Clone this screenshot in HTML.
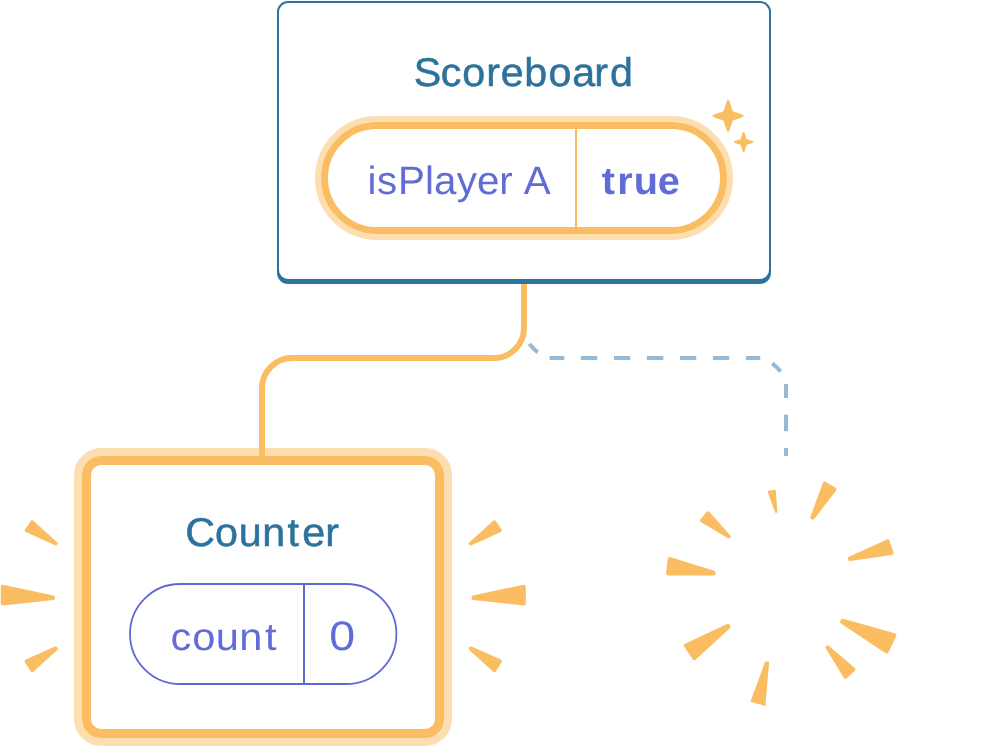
<!DOCTYPE html>
<html lang="en">
<head>
<meta charset="utf-8">
<title>Scoreboard diagram</title>
<style>
html,body{margin:0;padding:0;background:#fff;}
body{width:1008px;height:750px;overflow:hidden;}
svg{display:block;will-change:transform;}
text{font-family:"Liberation Sans",sans-serif;font-size:40px;text-rendering:geometricPrecision;}
.title{fill:#2C729D;stroke:#2C729D;stroke-width:0.5px;}
.state{fill:#626CD6;}
.bold{font-weight:bold;}
</style>
</head>
<body>
<svg width="1008" height="750" viewBox="0 0 1008 750" role="img" aria-label="Component tree: Scoreboard renders Counter; the second child has been removed">
<rect width="1008" height="750" fill="#fff"/>

<g id="connectors">
<rect x="78" y="452" width="370" height="290" rx="23" fill="none" stroke="#FCDEB0" stroke-width="8"/>
<path d="M524,282 V328 A30,30 0 0 1 494,358 H292 A30,30 0 0 0 262,388 V458" fill="none" stroke="#FABD62" stroke-width="6"/>
<g fill="none" stroke="#95BAD6" stroke-width="4">
<path d="M529.4,343.9 Q533,348.6 537.8,352.3"/>
<path d="M549.6,358 H564.3"/>
<path d="M580.8,358 H597.2"/>
<path d="M614,358 H630.2"/>
<path d="M646.9,358 H663.3"/>
<path d="M680,358 H696.2"/>
<path d="M712.9,358 H729.2"/>
<path d="M745.9,358 H760.2"/>
<path d="M772.2,363.4 Q777,367 780.6,371.6"/>
<path d="M786,384 V398"/>
<path d="M786,414.7 V431.2"/>
<path d="M786,448 V456"/>
</g>
</g>
<g id="scoreboard">
<rect x="277" y="1" width="494" height="283" rx="11" fill="#2C739E"/>
<rect x="279" y="3" width="490" height="276" rx="9" fill="#fff"/>
<rect x="318" y="119" width="412" height="118" rx="59" fill="none" stroke="#FCDEB0" stroke-width="6"/>
<rect x="324.5" y="125.5" width="399" height="105" rx="52.5" fill="#fff" stroke="#FABD62" stroke-width="7"/>
<rect x="575" y="128" width="2" height="100" fill="#FABD62"/>
<path d="M728.10,101.20 L731.80,112.20 L742.40,115.90 L731.80,119.60 L728.10,130.60 L724.40,119.60 L713.80,115.90 L724.40,112.20Z" fill="#FABD62" stroke="#FABD62" stroke-width="2.4" stroke-linejoin="round"/>
<path d="M743.60,133.00 L745.70,139.90 L752.30,142.00 L745.70,144.10 L743.60,151.00 L741.50,144.10 L734.90,142.00 L741.50,139.90Z" fill="#FABD62" stroke="#FABD62" stroke-width="2.0" stroke-linejoin="round"/>
<text class="title" style="font-size:40px" transform="translate(0,86.1) scale(1.03,1)" x="401.72 427.83 448.88 472.10 486.29 509.01 532.57 555.58 576.96 592.24" y="0">Scoreboard</text>
<text class="state" style="font-size:39.5px" transform="translate(0,194.0) scale(1.02,1)" x="360.33 369.50 390.17 416.68 425.58 447.86 467.63 489.53 502.69 513.59" y="0">isPlayer A</text>
<text class="state bold" style="font-size:38.5px" transform="translate(0,194.1) scale(1.03,1)" x="584.27 599.40 615.31 638.62" y="0">true</text>
</g>
<g id="counter">
<rect x="86.5" y="460.5" width="353" height="273" rx="14.5" fill="#fff" stroke="#FABD62" stroke-width="9"/>
<rect x="130" y="584" width="266.4" height="100" rx="50" fill="#fff" stroke="#5F69D6" stroke-width="1.8"/>
<rect x="303" y="584" width="2" height="100" fill="#5F69D6"/>
<text class="title" style="font-size:40px" transform="translate(0,545.9) scale(1.03,1)" x="179.87 208.63 231.92 254.72 279.24 293.38 315.79" y="0">Counter</text>
<text class="state" style="font-size:38.5px" transform="translate(0,650.1) scale(1.08,1)" x="157.84 177.91 199.69 221.53 245.43" y="0">count</text>
<text class="state" style="font-size:41.2px" transform="translate(0,650.2) scale(1.13,1)" x="291.29" y="0">0</text>
<path d="M32.13,522.12 L55.89,543.54 L55.79,543.70 L26.49,530.44Z" fill="#FABD62" stroke="#FABD62" stroke-width="3.60" stroke-linejoin="round"/>
<path d="M2.60,586.52 L53.20,597.16 L53.20,598.28 L2.60,603.70Z" fill="#FABD62" stroke="#FABD62" stroke-width="3.60" stroke-linejoin="round"/>
<path d="M26.43,661.21 L55.83,648.26 L56.05,648.60 L32.18,670.41Z" fill="#FABD62" stroke="#FABD62" stroke-width="3.60" stroke-linejoin="round"/>
<path d="M500.11,530.44 L470.81,543.70 L470.71,543.54 L494.47,522.12Z" fill="#FABD62" stroke="#FABD62" stroke-width="3.60" stroke-linejoin="round"/>
<path d="M524.00,603.70 L473.40,598.28 L473.40,597.16 L524.00,586.52Z" fill="#FABD62" stroke="#FABD62" stroke-width="3.60" stroke-linejoin="round"/>
<path d="M494.42,670.41 L470.55,648.60 L470.77,648.26 L500.17,661.21Z" fill="#FABD62" stroke="#FABD62" stroke-width="3.60" stroke-linejoin="round"/>
</g>
<g id="removed">
<rect x="-120.75" y="-115.9" width="241.5" height="231.8" rx="12" transform="translate(783.8,590.9) rotate(11.6)" fill="none" stroke="#FEF7EE" stroke-width="0.8" stroke-dasharray="2 3"/>
<path d="M768.48,491.63 L775.06,490.53 L776.54,511.90 L775.76,511.90Z" fill="#FABD62" stroke="#FABD62" stroke-width="1.60" stroke-linejoin="round"/>
<path d="M824.55,483.26 L834.74,489.31 L812.84,517.78 L812.07,517.44Z" fill="#FABD62" stroke="#FABD62" stroke-width="3.60" stroke-linejoin="round"/>
<path d="M887.73,541.07 L891.80,553.12 L849.80,559.12 L849.80,558.36Z" fill="#FABD62" stroke="#FABD62" stroke-width="3.60" stroke-linejoin="round"/>
<path d="M842.62,620.76 L894.38,635.29 L886.77,651.46 L842.01,621.93Z" fill="#FABD62" stroke="#FABD62" stroke-width="4.00" stroke-linejoin="round"/>
<path d="M827.55,647.09 L853.68,669.44 L845.40,677.00 L827.25,647.42Z" fill="#FABD62" stroke="#FABD62" stroke-width="3.60" stroke-linejoin="round"/>
<path d="M765.89,662.44 L768.12,662.55 L764.51,704.71 L751.71,701.13Z" fill="#FABD62" stroke="#FABD62" stroke-width="2.00" stroke-linejoin="round"/>
<path d="M685.84,645.44 L727.94,625.91 L728.54,626.73 L694.19,658.23Z" fill="#FABD62" stroke="#FABD62" stroke-width="4.00" stroke-linejoin="round"/>
<path d="M669.54,558.77 L713.72,572.56 L713.82,573.60 L667.82,573.60Z" fill="#FABD62" stroke="#FABD62" stroke-width="3.60" stroke-linejoin="round"/>
<path d="M708.04,512.86 L729.14,536.68 L728.98,536.89 L701.63,520.58Z" fill="#FABD62" stroke="#FABD62" stroke-width="3.20" stroke-linejoin="round"/>
</g>
</svg>
</body>
</html>
